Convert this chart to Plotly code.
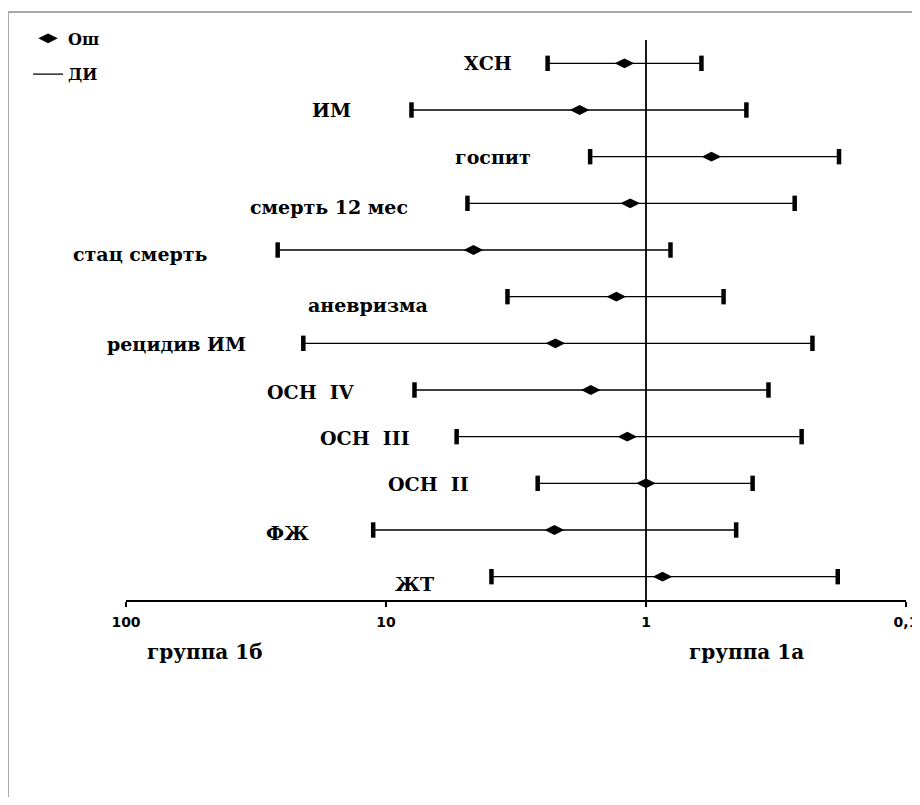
import math
import plotly.graph_objects as go

# ---- data (top to bottom) ----
outcomes = ["ХСН", "ИМ", "госпит", "смерть 12 мес", "стац смерть", "аневризма",
            "рецидив ИМ", "ОСН  IV", "ОСН  III", "ОСН  II", "ФЖ", "ЖТ"]
odds_ratio = [1.21, 1.80, 0.56, 1.15, 4.61, 1.30, 2.23, 1.63, 1.18, 1.00, 2.25, 0.864]
ci_low = [2.39, 7.98, 1.64, 4.86, 26.1, 3.41, 20.8, 7.77, 5.35, 2.61, 11.2, 3.93]
ci_high = [0.612, 0.411, 0.181, 0.268, 0.805, 0.503, 0.229, 0.338, 0.252, 0.389, 0.450, 0.183]
tick_vals = [100, 10, 1, 0.1]
tick_text = ["100", "10", "1", "0,1"]
group_left = "группа 1б"
group_right = "группа 1а"

# ---- label layout (log10 x of label centre, pixel y shift) ----
label_logx = [0.606, 1.210, 0.587, 1.221, 1.944, 1.071, 1.806, 1.290, 1.079, 0.837, 1.379, 0.890]
label_yshift = [0, 0, 0, -4, -4, -8, -1, -2, -1, -1, -3, -7]

n = len(outcomes)
ypos = [n - i for i in range(n)]

SERIF = "DejaVu Serif"

fig = go.Figure()

# reference line at OR = 1
fig.add_trace(go.Scatter(x=[1, 1], y=[0.5, n + 0.5], mode="lines",
                         line=dict(color="black", width=1.8),
                         showlegend=False, hoverinfo="skip"))

# CI whiskers
wx, wy = [], []
for lo, hi, y in zip(ci_low, ci_high, ypos):
    wx += [lo, hi, None]
    wy += [y, y, None]
fig.add_trace(go.Scatter(x=wx, y=wy, mode="lines", name="ДИ",
                         line=dict(color="black", width=1.4),
                         legendgroup="b", legendrank=2))

# CI caps
fig.add_trace(go.Scatter(x=ci_low + ci_high, y=ypos + ypos, mode="markers",
                         marker=dict(symbol="line-ns", size=11,
                                     line=dict(color="black", width=4.5)),
                         showlegend=False, hoverinfo="skip"))

# odds ratios
fig.add_trace(go.Scatter(x=odds_ratio, y=ypos, mode="markers", name="Ош",
                         marker=dict(symbol="diamond-wide", size=14, color="black"),
                         legendgroup="a", legendrank=1))

annotations = []
for name, lx, ys, y in zip(outcomes, label_logx, label_yshift, ypos):
    annotations.append(dict(x=lx, y=y, xref="x", yref="y", text=name, showarrow=False,
                            xanchor="center", yanchor="middle", yshift=ys,
                            font=dict(family=SERIF, size=19, color="black", weight="bold")))
annotations.append(dict(x=0.101, y=-0.093, xref="paper", yref="paper", text=group_left,
                        showarrow=False, xanchor="center", yanchor="middle",
                        font=dict(family=SERIF, size=20, color="black", weight="bold")))
annotations.append(dict(x=0.796, y=-0.093, xref="paper", yref="paper", text=group_right,
                        showarrow=False, xanchor="center", yanchor="middle",
                        font=dict(family=SERIF, size=20, color="black", weight="bold")))

fig.update_layout(
    width=912, height=789, autosize=False,
    margin=dict(l=118, r=14, t=32, b=197),
    paper_bgcolor="white", plot_bgcolor="white",
    xaxis=dict(type="log", range=[2, -1], tickvals=tick_vals, ticktext=tick_text,
               showgrid=False, zeroline=False, showline=True, linecolor="black",
               linewidth=1.8, ticks="outside", ticklen=5, tickwidth=1.5,
               tickcolor="black", ticklabelstandoff=3, automargin=False,
               tickfont=dict(family="DejaVu Sans", size=14, color="black", weight="bold")),
    yaxis=dict(range=[0.5, n + 0.5], visible=False),
    showlegend=True,
    legend=dict(xref="container", yref="container", x=0.022, y=0.983,
                xanchor="left", yanchor="top",
                traceorder="grouped", tracegroupgap=12,
                bgcolor="rgba(0,0,0,0)",
                font=dict(family=SERIF, size=16, color="black", weight="bold")),
    annotations=annotations,
    shapes=[dict(type="rect", xref="paper", yref="paper",
                 x0=-0.1513, x1=1.2, y0=-0.6, y1=1.05,
                 line=dict(color="#a8a8a8", width=2), fillcolor="rgba(0,0,0,0)",
                 layer="below")],
)

fig.write_html("out.html")
